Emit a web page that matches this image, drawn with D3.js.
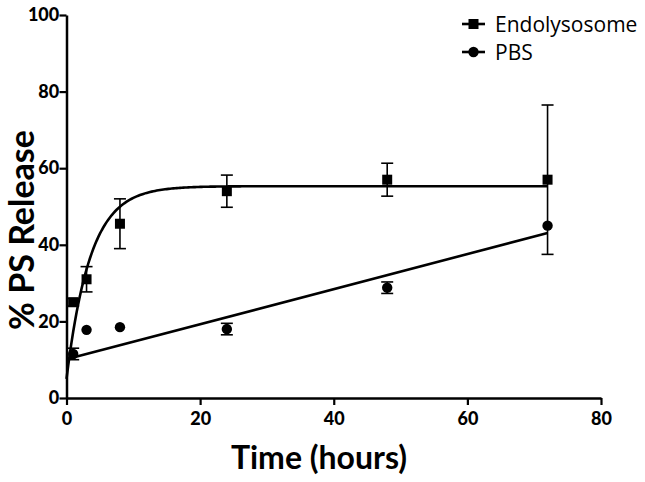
<!DOCTYPE html>
<html><head><meta charset="utf-8">
<script src="https://cdn.jsdelivr.net/npm/d3@7"></script>
<style>body{margin:0;background:#fff}svg{display:block}</style>
</head><body>
<script>
// Data
const endoTime = [1, 3, 8, 24, 48, 72];
const endoValue = [25, 31, 45.5, 54, 57, 57];
const endoErr = [1, 3.3, 6.5, 4.2, 4.3, 19.5];
const pbsTime = [1, 3, 8, 24, 48, 72];
const pbsValue = [11.5, 17.8, 18.5, 18, 28.8, 45];
const pbsErr = [1.5, 0, 0, 1.5, 1.5, 0];
// fitted model parameters
const endoFit = {y0: 5, plateau: 55.3, k: 0.28};
const pbsFit = {intercept: 10.1, slope: 0.458, start: 0.4, end: 72};
const xTicks = [0, 20, 40, 60, 80];
const yTicks = [0, 20, 40, 60, 80, 100];
const seriesNames = ["Endolysosome", "PBS"];

const W = 645, H = 482;
const svg = d3.select("body").append("svg").attr("width", W).attr("height", H);
const x = d3.scaleLinear().domain([0, 80]).range([66.5, 601]);
const y = d3.scaleLinear().domain([0, 100]).range([398, 15]);
const font = "Lato, 'Open Sans', sans-serif";

// axes
const xa = svg.append("g").attr("transform", `translate(0,${y(0)})`)
  .call(d3.axisBottom(x).tickValues(xTicks).tickSize(7).tickSizeOuter(0).tickFormat(d3.format("d")));
const ya = svg.append("g").attr("transform", `translate(${x(0)},0)`)
  .call(d3.axisLeft(y).tickValues(yTicks).tickSize(7).tickSizeOuter(0).tickFormat(d3.format("d")));
[xa, ya].forEach(a => {
  a.select(".domain").attr("stroke", "#000").attr("stroke-width", 2.5);
  a.selectAll(".tick line").attr("stroke", "#000").attr("stroke-width", 2.2);
  a.selectAll("text").attr("fill", "#000").style("font-family", font)
    .style("font-weight", "900").style("font-size", "18px");
});
xa.selectAll("text").attr("dy", "0.95em");
ya.selectAll("text").attr("dx", "0.15em");

// axis titles
svg.append("text").attr("x", 319).attr("y", 469).attr("text-anchor", "middle")
  .style("font-family", font).style("font-weight", "bold").style("font-size", "32px")
  .text("Time (hours)");
svg.append("text").attr("transform", "translate(34,230) rotate(-90)").attr("text-anchor", "middle")
  .style("font-family", font).style("font-weight", "bold").style("font-size", "34px")
  .text("% PS Release");

// fit curves
const endoCurveT = d3.range(0, 72.01, 0.25);
const endoLine = d3.line().x(t => x(t)).y(t => y(endoFit.y0 + (endoFit.plateau - endoFit.y0) * (1 - Math.exp(-endoFit.k * t))));
svg.append("path").attr("d", endoLine(endoCurveT)).attr("fill", "none").attr("stroke", "#000").attr("stroke-width", 2.6);
const pbsLine = d3.line().x(t => x(t)).y(t => y(pbsFit.intercept + pbsFit.slope * t));
svg.append("path").attr("d", pbsLine([pbsFit.start, pbsFit.end])).attr("fill", "none").attr("stroke", "#000").attr("stroke-width", 2.6);

// error bars
function errBars(ts, vs, es) {
  const g = svg.append("g").attr("stroke", "#000").attr("stroke-width", 1.6);
  ts.forEach((t, i) => {
    if (!es[i]) return;
    const cx = x(t), y1 = y(vs[i] + es[i]), y2 = y(vs[i] - es[i]);
    g.append("line").attr("x1", cx).attr("x2", cx).attr("y1", y1).attr("y2", y2);
    g.append("line").attr("x1", cx - 6).attr("x2", cx + 6).attr("y1", y1).attr("y2", y1);
    g.append("line").attr("x1", cx - 6).attr("x2", cx + 6).attr("y1", y2).attr("y2", y2);
  });
}
errBars(endoTime, endoValue, endoErr);
errBars(pbsTime, pbsValue, pbsErr);

// markers
svg.append("g").selectAll("rect").data(endoTime).join("rect")
  .attr("x", (t) => x(t) - 5).attr("y", (t, i) => y(endoValue[i]) - 5)
  .attr("width", 10).attr("height", 10).attr("fill", "#000");
svg.append("g").selectAll("circle").data(pbsTime).join("circle")
  .attr("cx", t => x(t)).attr("cy", (t, i) => y(pbsValue[i])).attr("r", 5.2).attr("fill", "#000");

// legend
const lg = svg.append("g");
lg.append("line").attr("x1", 462).attr("x2", 485).attr("y1", 24).attr("y2", 24).attr("stroke", "#000").attr("stroke-width", 2.6);
lg.append("rect").attr("x", 468.5).attr("y", 19).attr("width", 10).attr("height", 10).attr("fill", "#000");
lg.append("line").attr("x1", 462).attr("x2", 485).attr("y1", 52).attr("y2", 52).attr("stroke", "#000").attr("stroke-width", 2.6);
lg.append("circle").attr("cx", 473.5).attr("cy", 52).attr("r", 5.2).attr("fill", "#000");
lg.selectAll("text").data(seriesNames).join("text")
  .attr("x", 495).attr("y", (d, i) => 32 + i * 28)
  .style("font-family", "'Open Sans', Lato, sans-serif").style("font-size", "21px").attr("fill", "#000")
  .text(d => d);
</script>
</body></html>
